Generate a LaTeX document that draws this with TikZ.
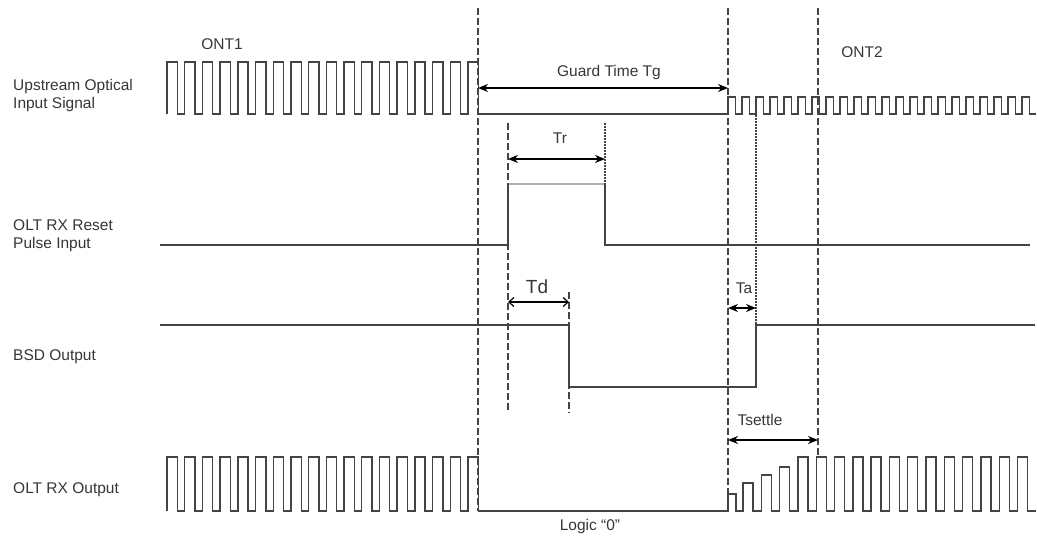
\documentclass[tikz,border=0pt]{standalone}
\usepackage{fontspec}
\setmainfont{Liberation Sans}
\usetikzlibrary{arrows.meta}
\definecolor{wave}{HTML}{444444}
\definecolor{txt}{HTML}{363636}

\begin{document}
\begin{tikzpicture}[x=1pt,y=-1pt,
  sig/.style={draw=wave,line width=1.4pt},
  guide/.style={draw=wave,line width=1.5pt,dash pattern=on 7pt off 3pt},
  dotguide/.style={draw=wave,line width=1.5pt,dash pattern=on 1.5pt off 1.5pt},
  span/.style={draw=black,line width=2pt,{Stealth[length=10pt,width=8pt]}-{Stealth[length=10pt,width=8pt]}},
  lbl/.style={text=txt,font=\fontsize{15.5}{18}\selectfont,inner sep=0pt}]
\useasboundingbox (0,0) rectangle (1037,536);

% row labels
\node[lbl,anchor=west,align=left] (lup) at (13,95) {Upstream Optical\\Input Signal};
\node[lbl,anchor=west,align=left] (lrst) at (13,236) {OLT RX Reset\\Pulse Input};
\node[lbl,anchor=west] (lbsd) at (13,357) {BSD Output};
\node[lbl,anchor=west] (lout) at (13,490) {OLT RX Output};

% upstream signal: ONT1 burst, guard, ONT2 burst
\draw[sig] (167,114) foreach \i in {0,...,17} {-- ++(0,-52) -- ++(10.3,0) -- ++(0,52) -- ++(7.4,0)}
  -- (728,114) foreach \i in {0,...,21} {-- ++(0,-17) -- ++(7.5,0) -- ++(0,17) -- ++(6.5,0)};

% reset pulse
\draw[sig] (160,245) -- (508,245) -- (508,184);
\draw[sig,draw=gray!60] (508,184) -- (605,184);
\draw[sig] (605,184) -- (605,245) -- (1030,245);

% BSD output
\draw[sig] (160,325) -- (569,325) -- (569,387) -- (756,387) -- (756,325) -- (1035,325);

% OLT RX output, ONT2 settling
\draw[sig] (167,511) foreach \i in {0,...,17} {-- ++(0,-54) -- ++(10.3,0) -- ++(0,54) -- ++(7.4,0)}
  -- (728,511) -- (728,494) -- (736,494) -- (736,511) -- (743,511)
  foreach \h in {28,36,44,54,54,54,54,54,54,54,54,54,54,54,54,54} {-- ++(0,-\h) -- ++(10,0) -- ++(0,\h) -- ++(8.3,0)};

% time marks
\foreach \x/\ya/\yb in {478/8/511, 728/8/494, 818/8/457, 508/123/413, 569/292/413}
  \draw[guide] (\x,\ya) -- (\x,\yb);
\foreach \x/\ya/\yb in {605/123/184, 756/115/325}
  \draw[dotguide] (\x,\ya) -- (\x,\yb);

% intervals
\foreach \n/\xa/\xb/\y in {tg/478/728/88, tr/508/605/159, ta/728/756/308, tst/728/818/440} {
  \coordinate (\n-a) at (\xa,\y);
  \coordinate (\n-b) at (\xb,\y);
  \draw[span] (\n-a) -- (\n-b);
}
\coordinate (td-a) at (508,302);
\coordinate (td-b) at (569,302);
\draw[draw=black,line width=1.2pt,{Straight Barb[length=5pt,width=9pt]}-{Straight Barb[length=5pt,width=9pt]}] (td-a) -- (td-b);

\node[lbl] (ont1) at (222,44) {ONT1};
\node[lbl] (ont2) at (862,52) {ONT2};
\node[lbl] (tgl) at (609,72) {Guard Time Tg};
\node[lbl] (trl) at (560,138) {Tr};
\node[lbl,font=\fontsize{19}{22}\selectfont] (tdl) at (537,287) {Td};
\node[lbl] (tal) at (744,288) {Ta};
\node[lbl] (tsl) at (760,420) {Tsettle};
\node[lbl] (logic) at (590,526) {Logic “0”};
\end{tikzpicture}
\end{document}
